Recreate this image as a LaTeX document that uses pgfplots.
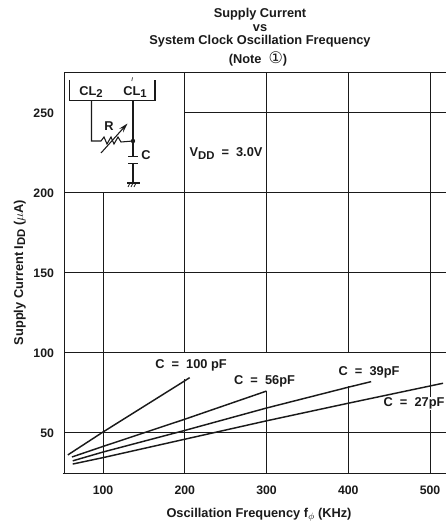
\documentclass[border=0pt]{standalone}
\usepackage{pgfplots}
\pgfplotsset{compat=1.18}
\usepackage{fontspec}
\setmainfont{Liberation Sans}
\newfontfamily\djv{DejaVu Sans}
\usetikzlibrary{arrows.meta}
\definecolor{ink}{HTML}{1A1A1A}
\newcommand{\low}[1]{\raisebox{-1.6pt}{\fontsize{8.5}{9}\selectfont #1}}
\begin{document}
\begin{tikzpicture}[every node/.style={text=ink,font=\bfseries\fontsize{9.6}{11}\selectfont}]
\path[use as bounding box] (0,0) rectangle (334.5pt,390.75pt);
\begin{axis}[
  at={(48pt,36pt)},anchor=south west,
  scale only axis,width=286.5pt,height=300.75pt,
  xmin=52.3,xmax=519.6,ymin=24.4,ymax=275,
  clip=false,
  axis line style={draw=none},
  major tick style={draw=none},
  xtick={100,200,300,400,500},
  ytick={50,100,150,200,250},
  /pgf/number format/assume math mode=true,
  tick label style={font=\bfseries\fontsize{9.2}{11}\selectfont,text=ink},
  xticklabel style={yshift=-6pt},
  yticklabel style={xshift=-4pt,yshift=-0.7pt},
  xlabel={Oscillation Frequency f\raisebox{-1.5pt}{\fontsize{7}{7}\selectfont$\phi$} (KHz)},
  xlabel style={font=\bfseries\fontsize{9.6}{11}\selectfont,text=ink,yshift=-3.5pt,xshift=3pt},
  ylabel={Supply Current I\low{DD} ($\mu$A)},
  ylabel style={font=\bfseries\fontsize{9.6}{11}\selectfont,text=ink,yshift=-1pt},
]
% frame and grid
\addplot[ink,line width=0.7pt] coordinates {(52.3,24.4)(52.3,275)(519.6,275)};
\addplot[ink,line width=0.7pt] coordinates {(51,24.4)(519.6,24.4)};
\addplot[ink,line width=0.6pt] coordinates {(100,24.4)(100,200)};
\addplot[ink,line width=0.6pt] coordinates {(200,24.4)(200,83)};
\addplot[ink,line width=0.6pt] coordinates {(200,100)(200,275)};
\addplot[ink,line width=0.6pt] coordinates {(300,24.4)(300,75.6)};
\addplot[ink,line width=0.6pt] coordinates {(300,100)(300,275)};
\addplot[ink,line width=0.6pt] coordinates {(400,24.4)(400,79)};
\addplot[ink,line width=0.6pt] coordinates {(400,100)(400,275)};
\addplot[ink,line width=0.6pt] coordinates {(500,24.4)(500,63.7)};
\addplot[ink,line width=0.6pt] coordinates {(500,71.8)(500,275)};
\addplot[ink,line width=0.6pt] coordinates {(52.3,50)(519.6,50)};
\addplot[ink,line width=0.6pt] coordinates {(52.3,100)(519.6,100)};
\addplot[ink,line width=0.6pt] coordinates {(52.3,150)(519.6,150)};
\addplot[ink,line width=0.6pt] coordinates {(52.3,200)(519.6,200)};
\addplot[ink,line width=0.6pt] coordinates {(200,250)(519.6,250)};
% curves
\addplot[ink,line width=1.1pt] coordinates {(57,35.7)(100,50)(200,82)(206,84)};
\addplot[ink,line width=1.1pt] coordinates {(62,34.4)(100,41)(200,58)(300,75.6)};
\addplot[ink,line width=1.1pt] coordinates {(63,32)(100,37.5)(200,51)(300,65)(400,78)(428,81.5)};
\addplot[ink,line width=1.1pt] coordinates {(63,30)(100,34)(200,45.5)(300,57)(400,68)(516,80.5)};
\end{axis}
\begin{scope}[x=0.75pt,y=-0.75pt,shift={(0,390.75pt)}]
% title
\node[inner sep=0pt] at (260,14) {Supply Current};
\node[inner sep=0pt] at (260,28) {vs};
\node[inner sep=0pt] at (260,41.5) {System Clock Oscillation Frequency};
\node[inner sep=0pt] at (258,58.5) {(Note\ \ {\djv\mdseries\fontsize{12}{12}\selectfont ①})};
% series labels
\node at (191,365.5) {C\ \ =\ \ 100 pF};
\node at (264.5,381.5) {C\ \ =\ \ 56pF};
\node at (369,372.5) {C\ \ =\ \ 39pF};
\node at (414,403) {C\ \ =\ \ 27pF};
\node at (226,153.5) {V\low{DD}\ \ =\ \ 3.0V};
% circuit
\draw[ink,line width=0.8pt] (69.5,80)--(69.5,100.5)--(155,100.5)--(155,80);
\node at (91,92) {CL\low{2}};
\node at (135,92) {CL\low{1}};
\draw[ink,line width=0.5pt] (132.5,77.5)--(131.8,81);
\draw[ink,line width=0.8pt] (91.5,100.5)--(91.5,141)--(101,141)--(104,137)--(107,144)--(111,137)--(114,144)--(118,137)--(121,142)--(133,141);
\draw[ink,line width=0.8pt] (133,100.5)--(133,156);
\fill[ink] (133,141) circle (2.2);
\draw[ink,line width=0.8pt,-{Stealth[length=7pt,width=4pt]}] (101,153)--(127.5,123.5);
\node at (109,126) {R};
\node at (146,155) {C};
\draw[ink,line width=1pt] (128,156.5)--(138,156.5);
\draw[ink,line width=1pt] (128,163.5)--(138,163.5);
\draw[ink,line width=0.8pt] (133,163.5)--(133,182);
\draw[ink,line width=1.2pt] (127,183)--(140,183);
\foreach \x in {129,132,135}{\draw[ink,line width=0.6pt] (\x+1,183)--(\x-1,187);}
\end{scope}
\end{tikzpicture}
\end{document}
